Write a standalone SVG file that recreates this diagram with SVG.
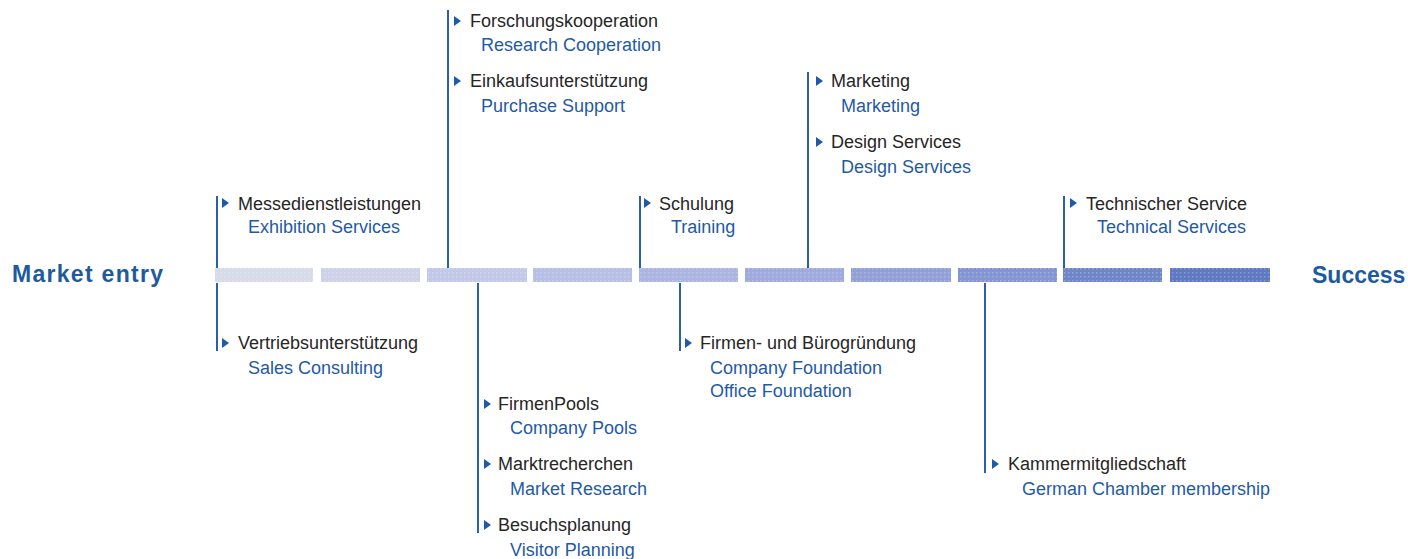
<svg xmlns="http://www.w3.org/2000/svg" width="1408" height="559" viewBox="0 0 1408 559">
  <style>
    .de { font-family: "Liberation Sans", Arial, sans-serif; font-size: 18px; fill: #262626; }
    .en { font-family: "Liberation Sans", Arial, sans-serif; font-size: 18px; fill: #1f5aa6; }
    .end { font-family: "Liberation Sans", Arial, sans-serif; font-size: 23px; font-weight: bold; fill: #1d5b9e; }
    .tick { fill: #1f5aa6; }
    .stem { stroke: #2c5fa8; stroke-width: 2; fill: none; }
  </style>
  <defs>
    <path id="tri" class="tick" d="M0,-5 L7,0 L0,5 Z"/>
    <pattern id="dots" width="4" height="4" patternUnits="userSpaceOnUse">
      <rect x="0" y="0" width="1.5" height="1.5" fill="#ffffff" fill-opacity="0.25"/>
    </pattern>
  </defs>
  <rect width="1408" height="559" fill="#ffffff"/>

  <!-- end labels -->
  <text class="end" x="12" y="282" textLength="151">Market entry</text>
  <text class="end" x="1312" y="283">Success</text>

  <!-- timeline bar -->
  <g id="timeline">
    <rect x="215" y="268" width="98" height="14" fill="#d6dae9"/>
    <rect x="321" y="268" width="99" height="14" fill="#cdd2ea"/>
    <rect x="427" y="268" width="100" height="14" fill="#c2c8e8"/>
    <rect x="533" y="268" width="99" height="14" fill="#b7bfe6"/>
    <rect x="639" y="268" width="99" height="14" fill="#acb4e2"/>
    <rect x="745" y="268" width="99" height="14" fill="#a0aadd"/>
    <rect x="851" y="268" width="100" height="14" fill="#92a0d8"/>
    <rect x="958" y="268" width="99" height="14" fill="#8395d2"/>
    <rect x="1063" y="268" width="99" height="14" fill="#6f86c9"/>
    <rect x="1170" y="268" width="100" height="14" fill="#5f7ac2"/>
    <rect x="215" y="268" width="1055" height="14" fill="url(#dots)"/>
  </g>

  <!-- connectors -->
  <g id="connectors">
    <line class="stem" x1="217" y1="196" x2="217" y2="268"/>
    <line class="stem" x1="217" y1="283" x2="217" y2="351"/>
    <line class="stem" x1="448" y1="10" x2="448" y2="268"/>
    <line class="stem" x1="478" y1="283" x2="478" y2="533"/>
    <line class="stem" x1="640" y1="196" x2="640" y2="268"/>
    <line class="stem" x1="680" y1="283" x2="680" y2="351"/>
    <line class="stem" x1="808" y1="72" x2="808" y2="268"/>
    <line class="stem" x1="985" y1="283" x2="985" y2="473"/>
    <line class="stem" x1="1064" y1="196" x2="1064" y2="268"/>
  </g>

  <!-- above the bar -->
  <g id="forschung">
    <use href="#tri" x="454" y="21"/>
    <text class="de" x="470" y="27">Forschungskooperation</text>
    <text class="en" x="481" y="51">Research Cooperation</text>
  </g>
  <g id="einkauf">
    <use href="#tri" x="454" y="81"/>
    <text class="de" x="470" y="87">Einkaufsunterstützung</text>
    <text class="en" x="481" y="112">Purchase Support</text>
  </g>
  <g id="marketing">
    <use href="#tri" x="816" y="81"/>
    <text class="de" x="831" y="87">Marketing</text>
    <text class="en" x="841" y="112">Marketing</text>
  </g>
  <g id="design">
    <use href="#tri" x="816" y="142"/>
    <text class="de" x="831" y="148">Design Services</text>
    <text class="en" x="841" y="173">Design Services</text>
  </g>
  <g id="messe">
    <use href="#tri" x="222" y="203"/>
    <text class="de" x="238" y="210">Messedienstleistungen</text>
    <text class="en" x="248" y="233">Exhibition Services</text>
  </g>
  <g id="schulung">
    <use href="#tri" x="644" y="203"/>
    <text class="de" x="659" y="210">Schulung</text>
    <text class="en" x="671" y="233">Training</text>
  </g>
  <g id="technik">
    <use href="#tri" x="1070" y="203"/>
    <text class="de" x="1086" y="210">Technischer Service</text>
    <text class="en" x="1097" y="233">Technical Services</text>
  </g>

  <!-- below the bar -->
  <g id="vertrieb">
    <use href="#tri" x="222" y="343"/>
    <text class="de" x="238" y="349">Vertriebsunterstützung</text>
    <text class="en" x="248" y="374">Sales Consulting</text>
  </g>
  <g id="gruendung">
    <use href="#tri" x="685" y="343"/>
    <text class="de" x="700" y="349">Firmen- und Bürogründung</text>
    <text class="en" x="710" y="374">Company Foundation</text>
    <text class="en" x="710" y="397">Office Foundation</text>
  </g>
  <g id="pools">
    <use href="#tri" x="484" y="404"/>
    <text class="de" x="498" y="410">FirmenPools</text>
    <text class="en" x="510" y="434">Company Pools</text>
  </g>
  <g id="recherche">
    <use href="#tri" x="484" y="464"/>
    <text class="de" x="498" y="470">Marktrecherchen</text>
    <text class="en" x="510" y="495">Market Research</text>
  </g>
  <g id="besuch">
    <use href="#tri" x="484" y="525"/>
    <text class="de" x="498" y="531">Besuchsplanung</text>
    <text class="en" x="510" y="556">Visitor Planning</text>
  </g>
  <g id="kammer">
    <use href="#tri" x="992" y="464"/>
    <text class="de" x="1008" y="470">Kammermitgliedschaft</text>
    <text class="en" x="1022" y="495">German Chamber membership</text>
  </g>
</svg>
